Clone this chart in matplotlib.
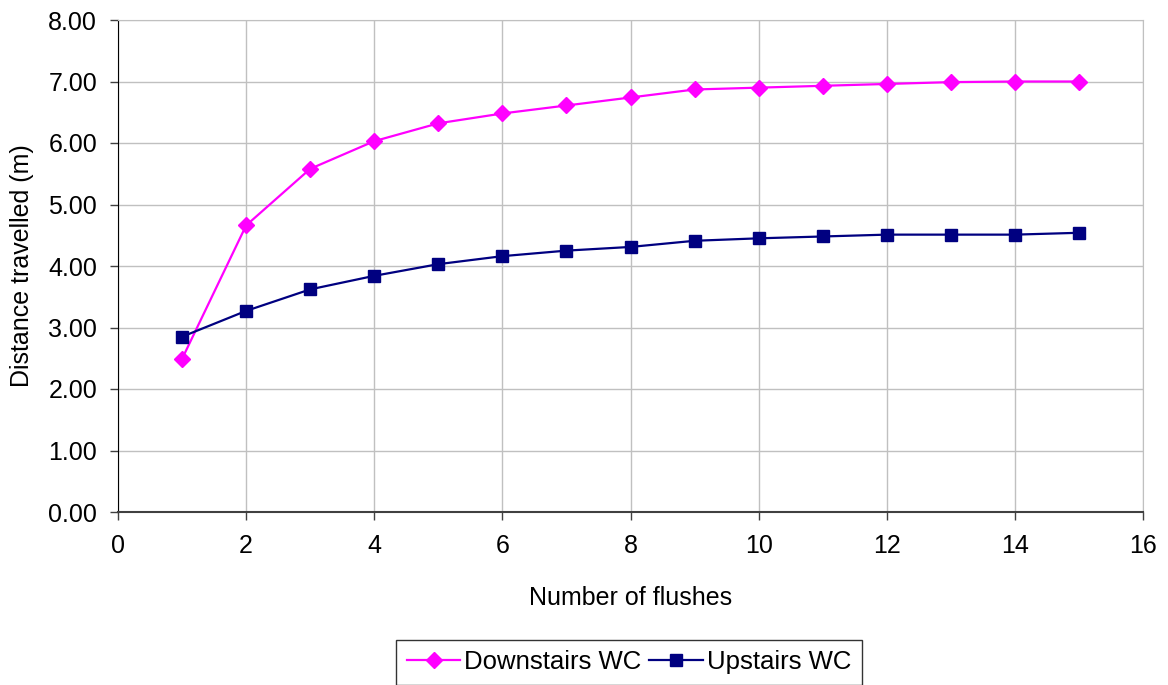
import matplotlib
matplotlib.use("Agg")
from matplotlib import pyplot as plt
from matplotlib.ticker import FormatStrFormatter

flushes = [1, 2, 3, 4, 5, 6, 7, 8, 9, 10, 11, 12, 13, 14, 15]
downstairs = [2.49, 4.66, 5.58, 6.03, 6.32, 6.48, 6.61, 6.74, 6.87, 6.90, 6.93, 6.96, 6.99, 7.00, 7.00]
upstairs = [2.85, 3.27, 3.62, 3.84, 4.03, 4.16, 4.25, 4.31, 4.41, 4.45, 4.48, 4.51, 4.51, 4.51, 4.54]

plt.rcParams['font.family'] = ['Liberation Sans', 'DejaVu Sans']
fs = 18

fig = plt.figure(figsize=(11.68, 6.85), dpi=100)
ax = fig.add_axes([118 / 1168, 1 - 512 / 685, (1143 - 118) / 1168, (512 - 20) / 685])

ax.plot(flushes, downstairs, color='#ff00ff', lw=1.6, marker='D', ms=8.5,
        label='Downstairs WC', clip_on=False)
ax.plot(flushes, upstairs, color='#000080', lw=1.6, marker='s', ms=8.5,
        label='Upstairs WC', clip_on=False)

ax.set_xlim(0, 16)
ax.set_ylim(0, 8)
ax.set_xticks(range(0, 17, 2))
ax.set_yticks(range(0, 9))
ax.yaxis.set_major_formatter(FormatStrFormatter('%.2f'))
ax.grid(True, color='#c0c0c0', lw=1)
ax.set_axisbelow(True)

for s in ['top', 'right']:
    ax.spines[s].set_color('#c0c0c0')
ax.spines['left'].set_color('#000000')
ax.spines['bottom'].set_color('#404040')
ax.spines['bottom'].set_linewidth(1.5)
ax.tick_params(direction='out', length=6, width=1, color='#404040',
               labelsize=fs)
ax.tick_params(axis='x', pad=10)
ax.tick_params(axis='y', pad=9)

ax.set_xlabel('Number of flushes', fontsize=fs, labelpad=20)
ax.set_ylabel('Distance travelled (m)', fontsize=fs, labelpad=10)

leg = fig.legend(loc='upper center', bbox_to_anchor=(629 / 1168, 1 - 640 / 685),
                 ncol=2, fontsize=18.5, frameon=True, fancybox=False,
                 edgecolor='#000000', borderpad=0.4, columnspacing=0.3,
                 handlelength=2.1, handletextpad=0.15, borderaxespad=0)
leg.get_frame().set_linewidth(1)

fig.savefig('out.png', dpi=100)
